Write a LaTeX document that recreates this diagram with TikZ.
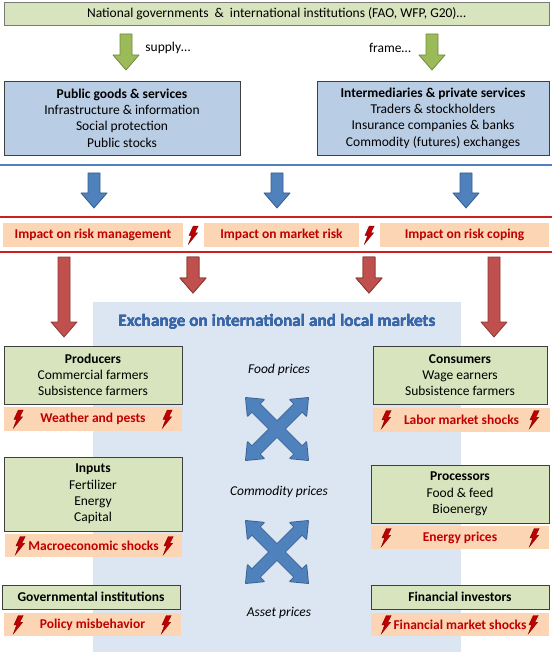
\documentclass[tikz,border=0pt]{standalone}
\usepackage{fontspec}
\setmainfont{Carlito}
\usepackage{xcolor}
\usepackage{tikz}
\usetikzlibrary{positioning}

\definecolor{boxgreen}{HTML}{D7E4BD}
\definecolor{boxblue}{HTML}{B9CDE5}
\definecolor{boxline}{HTML}{3F3F3F}
\definecolor{shockorange}{HTML}{FCD5B5}
\definecolor{shockred}{HTML}{C00000}
\definecolor{linered}{HTML}{CC1F1F}
\definecolor{marketbg}{HTML}{DCE6F2}
\definecolor{titleblue}{HTML}{3A67A8}
\definecolor{arrowgreen}{HTML}{9BBB59}
\definecolor{arrowgreendark}{HTML}{71893F}
\definecolor{arrowblue}{HTML}{4F81BD}
\definecolor{arrowbluedark}{HTML}{385D8A}
\definecolor{arrowred}{HTML}{C0504D}
\definecolor{arrowreddark}{HTML}{8C3836}

% block arrow pointing down: style, x, top, tip
\newcommand{\downblock}[4]{%
  \filldraw[#1] (#2-6,#3) -- (#2+6,#3) -- (#2+6,#4-15) -- (#2+13,#4-15)
    -- (#2,#4) -- (#2-13,#4-15) -- (#2-6,#4-15) -- cycle;}
% double headed arrow outline
\newcommand{\dblarrow}{(-44,0) -- (-30,-11.5) -- (-30,-5.5) -- (30,-5.5) -- (30,-11.5)
  -- (44,0) -- (30,11.5) -- (30,5.5) -- (-30,5.5) -- (-30,11.5) -- cycle}

\begin{document}
\begin{tikzpicture}[x=1pt, y=-1pt,
  font=\fontsize{13.5}{16.3}\selectfont,
  greenbox/.style={draw=boxline, fill=boxgreen, line width=0.9pt, align=center, inner sep=0pt},
  bluebox/.style={draw=boxline, fill=boxblue, line width=0.9pt, align=center, inner sep=0pt},
  shockbox/.style={fill=shockorange, text=shockred, inner sep=0pt,
    font=\fontsize{13.5}{16.3}\selectfont\bfseries},
  pricelabel/.style={font=\fontsize{13.5}{16.3}\selectfont\itshape},
  blockgreen/.style={fill=arrowgreen, draw=arrowgreendark, line width=0.8pt, line join=round},
  blockblue/.style={fill=arrowblue, draw=arrowbluedark, line width=0.8pt, line join=round},
  blockred/.style={fill=arrowred, draw=arrowreddark, line width=0.8pt, line join=round},
  pics/bolt/.style={code={
    \filldraw[fill=shockred, draw=shockred!70!black, line width=0.4pt]
      (0.3,-9) -- (5.2,-9) -- (1.8,-2.2) -- (4.6,-2.2) -- (-4.6,9.2) -- (-1.3,0.3) -- (-4,0.3) -- cycle;}},
  pics/pricecross/.style={code={
    \foreach \a in {45,-45}
      \draw[arrowbluedark, line width=1.6pt, line join=round, rotate=\a] \dblarrow;
    \foreach \a in {45,-45}
      \fill[arrowblue, rotate=\a] \dblarrow;}}]
  \useasboundingbox (0,0) rectangle (552,652);

  % --- Top level ---
  \node[greenbox, draw=boxline!70, line width=0.7pt, minimum width=545, minimum height=23] (gov) at (276.5,14)
    {National governments\ \ \&\ \ international institutions (FAO, WFP, G20)…};
  \downblock{blockgreen}{126}{34}{70}
  \downblock{blockgreen}{432}{34}{70}
  \node (supply) at (168,48) {supply…};
  \node (frame) at (390,48) {frame…};

  % Services
  \node[bluebox, minimum width=236, minimum height=74] (public) at (122,118)
    {\textbf{Public goods \& services}\\Infrastructure \& information\\Social protection\\Public stocks};
  \node[bluebox, minimum width=232, minimum height=74] (private) at (433,118)
    {\textbf{Intermediaries \& private services}\\Traders \& stockholders\\Insurance companies \& banks\\Commodity (futures) exchanges};

  % --- Impact row ---
  \draw[arrowblue, line width=1.5pt] (0,165) -- (552,165);
  \foreach \x in {94,277,466}
    \downblock{blockblue}{\x}{173}{208}
  \draw[linered, line width=1.5pt] (0,217) -- (552,217);
  \draw[linered, line width=1.5pt] (0,252) -- (552,252);
  \node[shockbox, minimum width=180, minimum height=24] (riskman) at (93,235) {Impact on risk management};
  \node[shockbox, minimum width=155, minimum height=24] (mktrisk) at (281.5,235) {Impact on market risk};
  \node[shockbox, minimum width=169, minimum height=24] (riskcope) at (464.5,235) {Impact on risk coping};
  \pic at (193,235) {bolt};
  \pic at (369,235) {bolt};

  % --- Markets ---
  \node[fill=marketbg, anchor=north west, inner sep=0pt, minimum width=368, minimum height=350] (market) at (93,302) {};
  \foreach \x in {64,494}
    \downblock{blockred}{\x}{257}{337}
  \foreach \x in {193,369}
    \downblock{blockred}{\x}{257}{293}
  \node[text=titleblue, font=\fontsize{17.3}{20}\selectfont\bfseries] (exchange) at (277,322)
    {Exchange on international and local markets};
  \node[pricelabel] (food) at (279,370) {Food prices};
  \node[pricelabel] (commodity) at (279,492) {Commodity prices};
  \node[pricelabel] (asset) at (279,613) {Asset prices};
  \pic at (277,429) {pricecross};
  \pic at (277,552) {pricecross};

  % Left actors
  \node[greenbox, minimum width=178, minimum height=58] (producers) at (93,375)
    {\textbf{Producers}\\Commercial farmers\\Subsistence farmers};
  \node[shockbox, minimum width=178, minimum height=24] (weather) at (93,419) {Weather and pests};
  \node[greenbox, minimum width=178, minimum height=74] (inputs) at (93,494)
    {\textbf{Inputs}\\Fertilizer\\Energy\\Capital};
  \node[shockbox, minimum width=177, minimum height=23] (macro) at (93.5,545.5) {Macroeconomic shocks};
  \node[greenbox, minimum width=178, minimum height=24] (govinst) at (91,597) {\textbf{Governmental institutions}};
  \node[shockbox, minimum width=177, minimum height=23] (policy) at (92.5,624.5) {Policy misbehavior};

  % Right actors
  \node[greenbox, minimum width=174, minimum height=58] (consumers) at (460,375)
    {\textbf{Consumers}\\Wage earners\\Subsistence farmers};
  \node[shockbox, minimum width=177, minimum height=24] (labor) at (461.5,419.5) {Labor market shocks};
  \node[greenbox, minimum width=178, minimum height=58] (processors) at (460,494)
    {\textbf{Processors}\\Food \& feed\\Bioenergy};
  \node[shockbox, minimum width=178, minimum height=23] (energy) at (460,537.5) {Energy prices};
  \node[greenbox, minimum width=178, minimum height=24] (fininv) at (460,597) {\textbf{Financial investors}};
  \node[shockbox, minimum width=178, minimum height=23] (finshock) at (460,624.5) {Financial market shocks};

  % --- Shock bolts ---
  \foreach \x/\y in {18/419, 167/419, 20/545.5, 168/545.5, 18/624.5, 166/624.5}
    \pic at (\x,\y) {bolt};
  \foreach \x/\y in {386/419.5, 534/419.5, 386/537.5, 534/537.5, 386/624.5, 533/624.5}
    \pic at (\x,\y) {bolt};

\end{tikzpicture}
\end{document}
